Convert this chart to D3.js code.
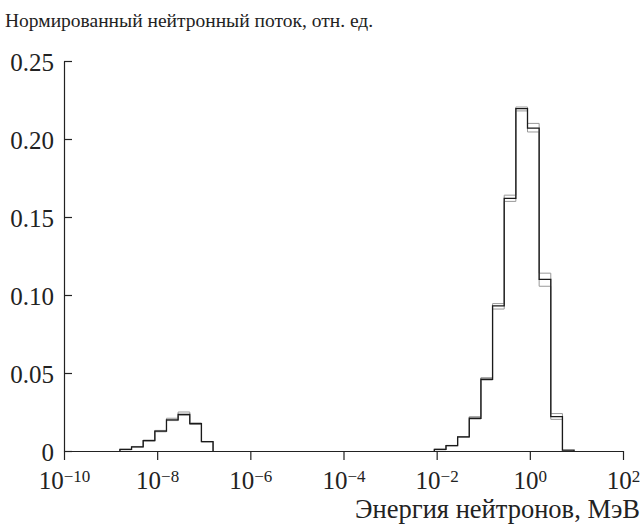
<!DOCTYPE html>
<html>
<head>
<meta charset="utf-8">
<script src="https://cdn.jsdelivr.net/npm/d3@7"></script>
<style>
  body { margin: 0; background: #fff; }
  svg text { font-family: "Liberation Serif", "Times New Roman", serif; fill: #222; }
</style>
</head>
<body>
<div id="chart"></div>
<script>
// bin edges, log10 of energy in MeV
const thermalEdges = [-8.8, -8.55, -8.3, -8.05, -7.8, -7.55, -7.3, -7.05, -6.8];
const fastEdges = [-2.05, -1.8, -1.55, -1.3, -1.05, -0.8, -0.55, -0.3, -0.05, 0.2, 0.45, 0.7, 0.95];

// normalized flux per bin, three calculations
const thermalA = [0.001, 0.0027, 0.0067, 0.0127, 0.0200, 0.0235, 0.0175, 0.0060];
const thermalB = [0.0011, 0.0029, 0.0070, 0.0132, 0.0210, 0.0250, 0.0180, 0.0061];
const thermalC = [0.0008, 0.0025, 0.0064, 0.0123, 0.0195, 0.0228, 0.0170, 0.0058];

const fastA = [0.001, 0.0035, 0.0090, 0.0210, 0.0460, 0.0930, 0.1620, 0.2195, 0.2070, 0.1100, 0.0220, 0.0006];
const fastB = [0.0008, 0.0033, 0.0088, 0.0220, 0.0470, 0.0945, 0.1640, 0.2205, 0.2100, 0.1140, 0.0240, 0];
const fastC = [0.0012, 0.0036, 0.0092, 0.0205, 0.0455, 0.0910, 0.1600, 0.2180, 0.2045, 0.1056, 0.0203, 0];

const xTicks = [-10, -8, -6, -4, -2, 0, 2];
const yTicks = [0, 0.05, 0.10, 0.15, 0.20, 0.25];

const width = 642, height = 524;
const margin = {top: 61, right: 19, bottom: 73, left: 64};

const svg = d3.select("#chart").append("svg")
    .attr("width", width)
    .attr("height", height);

const x = d3.scaleLog()
    .domain([1e-10, 1e2])
    .range([margin.left, width - margin.right]);

const y = d3.scaleLinear()
    .domain([0, 0.25])
    .range([height - margin.bottom, margin.top]);

// histogram outline: up at first edge, steps, down at last edge
function histPoints(edges, values) {
    let pts = [[edges[0], 0]];
    values.forEach((v, i) => pts.push([edges[i], v]));
    pts.push([edges[edges.length - 1], 0]);
    return pts;
}

const line = d3.line()
    .x(d => x(Math.pow(10, d[0])))
    .y(d => y(d[1]))
    .curve(d3.curveStepAfter);

const series = [
    {edges: thermalEdges, values: thermalB, color: "#999", w: 1},
    {edges: thermalEdges, values: thermalC, color: "#999", w: 1},
    {edges: fastEdges, values: fastB, color: "#999", w: 1},
    {edges: fastEdges, values: fastC, color: "#999", w: 1},
    {edges: thermalEdges, values: thermalA, color: "#1a1a1a", w: 1.3},
    {edges: fastEdges, values: fastA, color: "#1a1a1a", w: 1.3}
];

svg.selectAll("path.hist")
    .data(series)
    .join("path")
    .attr("class", "hist")
    .attr("fill", "none")
    .attr("stroke", d => d.color)
    .attr("stroke-width", d => d.w)
    .attr("d", d => line(histPoints(d.edges, d.values)));

// y axis
const yAxis = svg.append("g")
    .attr("transform", `translate(${margin.left},0)`)
    .call(d3.axisLeft(y)
        .tickValues(yTicks)
        .tickSizeInner(-8)
        .tickSizeOuter(0)
        .tickPadding(10)
        .tickFormat(d => d === 0 ? "0" : d3.format(".2f")(d)));
yAxis.selectAll("text").style("font-size", "25px").attr("dy", "0.38em");

// x axis
const xAxis = svg.append("g")
    .attr("transform", `translate(0,${height - margin.bottom})`)
    .call(d3.axisBottom(x)
        .tickValues(xTicks.map(e => Math.pow(10, e)))
        .tickSizeInner(9)
        .tickSizeOuter(0)
        .tickFormat(""));

xAxis.selectAll(".tick").each(function(d, i) {
    const t = d3.select(this).append("text")
        .attr("y", 38)
        .attr("text-anchor", "middle")
        .style("font-size", "25px");
    t.append("tspan").text("10");
    t.append("tspan")
        .attr("dy", "-0.42em")
        .style("font-size", "17px")
        .text(String(xTicks[i]).replace("-", "\u2212"));
});

svg.selectAll(".domain, .tick line").attr("stroke", "#222").attr("stroke-width", 1.2);

// titles
svg.append("text")
    .attr("x", 5)
    .attr("y", 27)
    .style("font-size", "19.5px")
    .text("Нормированный нейтронный поток, отн. ед.");

svg.append("text")
    .attr("x", 640)
    .attr("y", 518)
    .attr("text-anchor", "end")
    .style("font-size", "26.5px")
    .text("Энергия нейтронов, МэВ");
</script>
</body>
</html>
